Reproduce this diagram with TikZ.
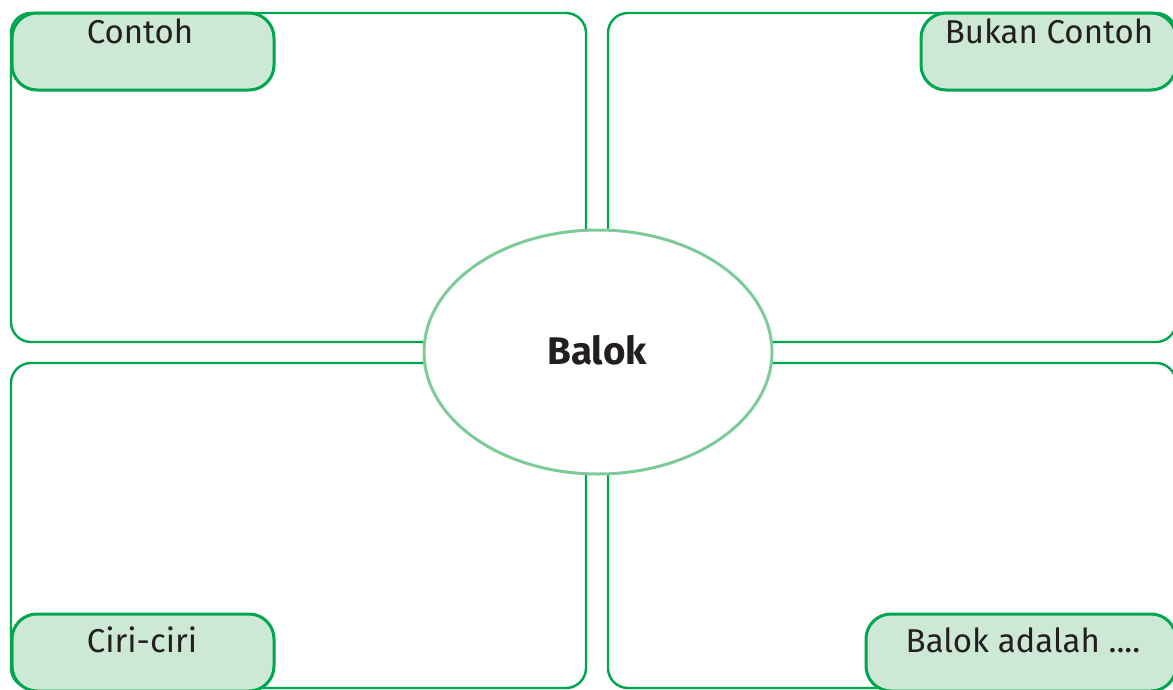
\documentclass[tikz,border=0pt]{standalone}
\usepackage{fontspec}
\setmainfont{Fira Sans}
\usetikzlibrary{shapes.geometric}
\definecolor{panelgreen}{HTML}{00A650}
\definecolor{labelfill}{HTML}{CDE8D5}
\definecolor{ellgreen}{HTML}{7DCB99}
\definecolor{ink}{HTML}{231F20}
\tikzset{
  panel/.style={draw=panelgreen, line width=2.4pt, rounded corners=20pt, rectangle, inner sep=0pt},
  labelbox/.style={draw=panelgreen, fill=labelfill, line width=3pt, rounded corners=25pt, rectangle, inner sep=0pt, minimum height=77pt},
  labeltext/.style={text=ink, font=\fontsize{33}{35}\selectfont, anchor=base, inner sep=0pt},
  centre/.style={ellipse, draw=ellgreen, fill=white, line width=3pt, minimum width=348pt, minimum height=244pt, inner sep=0pt},
  centretext/.style={text=ink, font=\fontsize{38.5}{40}\selectfont\bfseries, anchor=base, inner sep=0pt}
}
\begin{document}
\begin{tikzpicture}[x=1pt,y=-1pt]
\useasboundingbox (0,0) rectangle (1173,689);
\clip (0,0) rectangle (1173,689);
\node[panel, minimum width=575pt, minimum height=329pt] (tl) at (298.5,177.5) {};
\node[panel, minimum width=568pt, minimum height=329pt] (tr) at (892,177.5) {};
\node[panel, minimum width=575pt, minimum height=325pt] (bl) at (298.5,525.5) {};
\node[panel, minimum width=568pt, minimum height=325pt] (br) at (892,525.5) {};
\node[labelbox, minimum width=262pt] (lbtl) at (143,51.5) {};
\node[labelbox, minimum width=255pt] (lbtr) at (1048.5,51.5) {};
\node[labelbox, minimum width=262pt] (lbbl) at (143,652.5) {};
\node[labelbox, minimum width=310pt] (lbbr) at (1021,652.5) {};
\node[labeltext] (ttl) at (140,43) {Contoh};
\node[labeltext] (ttr) at (1049,43) {Bukan Contoh};
\node[labeltext] (tbl) at (142,652) {Ciri-ciri};
\node[labeltext] (tbr) at (1023,652) {Balok adalah ....};
\node[centre] (balok) at (598,352) {};
\node[centretext] (baloktext) at (597,364) {Balok};
\end{tikzpicture}
\end{document}
